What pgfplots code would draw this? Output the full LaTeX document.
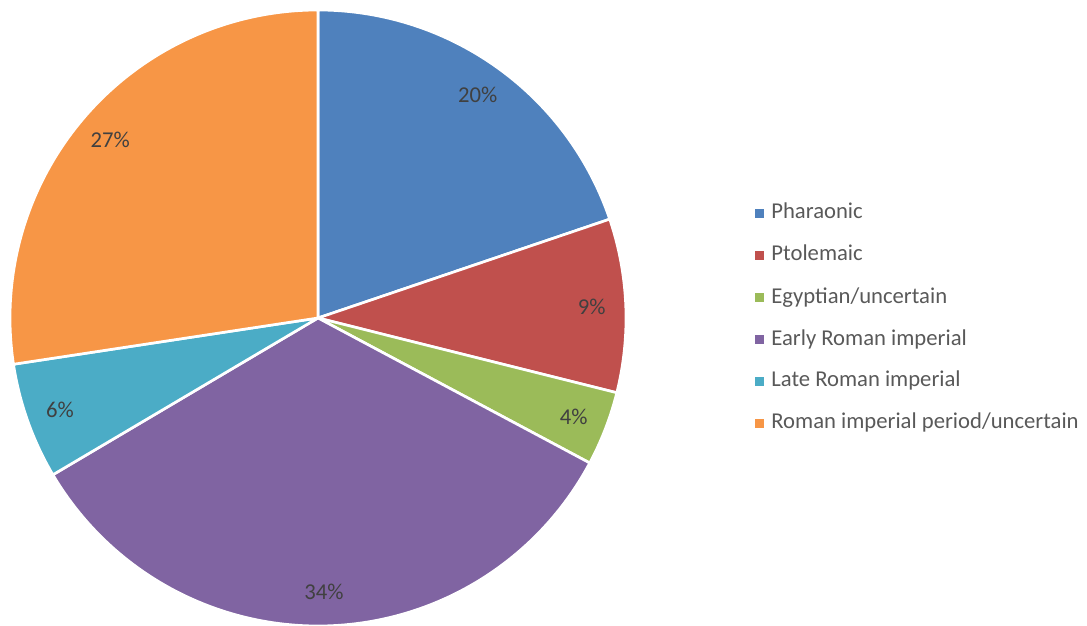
\documentclass[border=0pt]{standalone}
\usepackage{pgfplots}
\pgfplotsset{compat=1.18}
\usepackage{pgfplotstable}
\usepackage{fontspec}
\setmainfont{Carlito}
\definecolor{cA}{HTML}{4F81BD}
\definecolor{cB}{HTML}{C0504D}
\definecolor{cC}{HTML}{9BBB59}
\definecolor{cD}{HTML}{8064A2}
\definecolor{cE}{HTML}{4BACC6}
\definecolor{cF}{HTML}{F79646}
\definecolor{legtext}{HTML}{595959}
\definecolor{labtext}{HTML}{404040}
\pgfplotstableread{
idx value
0 19.8
1 9.1
2 3.9
3 33.7
4 6.1
5 27.4
}\piedata
\begin{document}
\begin{tikzpicture}
\def\cx{318}\def\cy{307}\def\R{308}\def\Rl{274}
\pgfmathsetmacro\aZ{90}
\pgfplotstablegetelem{0}{value}\of\piedata \pgfmathsetmacro\aA{\aZ-3.6*\pgfplotsretval}
\pgfplotstablegetelem{1}{value}\of\piedata \pgfmathsetmacro\aB{\aA-3.6*\pgfplotsretval}
\pgfplotstablegetelem{2}{value}\of\piedata \pgfmathsetmacro\aC{\aB-3.6*\pgfplotsretval}
\pgfplotstablegetelem{3}{value}\of\piedata \pgfmathsetmacro\aD{\aC-3.6*\pgfplotsretval}
\pgfplotstablegetelem{4}{value}\of\piedata \pgfmathsetmacro\aE{\aD-3.6*\pgfplotsretval}
\pgfplotstablegetelem{5}{value}\of\piedata \pgfmathsetmacro\aF{\aE-3.6*\pgfplotsretval}
% label positions
\pgfmathsetmacro\xA{\cx+\Rl*cos((\aZ+\aA)/2)}\pgfmathsetmacro\yA{\cy+\Rl*sin((\aZ+\aA)/2)}
\pgfmathsetmacro\xB{\cx+\Rl*cos((\aA+\aB)/2)}\pgfmathsetmacro\yB{\cy+\Rl*sin((\aA+\aB)/2)}
\pgfmathsetmacro\xC{\cx+\Rl*cos((\aB+\aC)/2)}\pgfmathsetmacro\yC{\cy+\Rl*sin((\aB+\aC)/2)}
\pgfmathsetmacro\xD{\cx+\Rl*cos((\aC+\aD)/2)}\pgfmathsetmacro\yD{\cy+\Rl*sin((\aC+\aD)/2)}
\pgfmathsetmacro\xE{\cx+\Rl*cos((\aD+\aE)/2)}\pgfmathsetmacro\yE{\cy+\Rl*sin((\aD+\aE)/2)}
\pgfmathsetmacro\xF{\cx+\Rl*cos((\aE+\aF)/2)}\pgfmathsetmacro\yF{\cy+\Rl*sin((\aE+\aF)/2)}
\begin{axis}[
  scale only axis, width=815.25pt, height=468.75pt,
  xmin=0, xmax=1087, ymin=0, ymax=625,
  hide axis, clip=false,
  legend cell align=left,
  legend style={draw=none, fill=none, at={(axis cs:755,422)}, anchor=north west,
    font=\fontsize{17}{19}\selectfont, text=legtext, inner sep=0pt, outer sep=0pt,
    row sep=15.5pt,
    nodes={inner sep=0pt, text height=12pt, text depth=4pt},
    /tikz/every odd column/.append style={column sep=5.5pt}},
  legend image code/.code={\fill[#1,draw=none] (0pt,-3.375pt) rectangle (6.75pt,3.375pt);},
  slice/.style={draw=white, line width=2pt, line join=round, samples=120},
]
\addplot[slice, fill=cA, domain=\aA:\aZ] ({\cx+\R*cos(x)},{\cy+\R*sin(x)}) -- (\cx,\cy) -- cycle;
\addlegendentry{Pharaonic}
\addplot[slice, fill=cB, domain=\aB:\aA] ({\cx+\R*cos(x)},{\cy+\R*sin(x)}) -- (\cx,\cy) -- cycle;
\addlegendentry{Ptolemaic}
\addplot[slice, fill=cC, domain=\aC:\aB] ({\cx+\R*cos(x)},{\cy+\R*sin(x)}) -- (\cx,\cy) -- cycle;
\addlegendentry{Egyptian/uncertain}
\addplot[slice, fill=cD, domain=\aD:\aC] ({\cx+\R*cos(x)},{\cy+\R*sin(x)}) -- (\cx,\cy) -- cycle;
\addlegendentry{Early Roman imperial}
\addplot[slice, fill=cE, domain=\aE:\aD] ({\cx+\R*cos(x)},{\cy+\R*sin(x)}) -- (\cx,\cy) -- cycle;
\addlegendentry{Late Roman imperial}
\addplot[slice, fill=cF, domain=\aF:\aE] ({\cx+\R*cos(x)},{\cy+\R*sin(x)}) -- (\cx,\cy) -- cycle;
\addlegendentry{Roman imperial period/uncertain}
\begin{scope}[every node/.style={font=\fontsize{17}{19}\selectfont, text=labtext}]
\node at (axis cs:\xA,\yA) {20\%};
\node at (axis cs:\xB,\yB) {9\%};
\node at (axis cs:\xC,\yC) {4\%};
\node at (axis cs:\xD,\yD) {34\%};
\node at (axis cs:\xE,\yE) {6\%};
\node at (axis cs:\xF,\yF) {27\%};
\end{scope}
\coordinate (BL) at (axis cs:0,0);
\coordinate (TR) at (axis cs:1087,625);
\end{axis}
\pgfresetboundingbox
\path (BL) rectangle (TR);
\end{tikzpicture}
\end{document}
